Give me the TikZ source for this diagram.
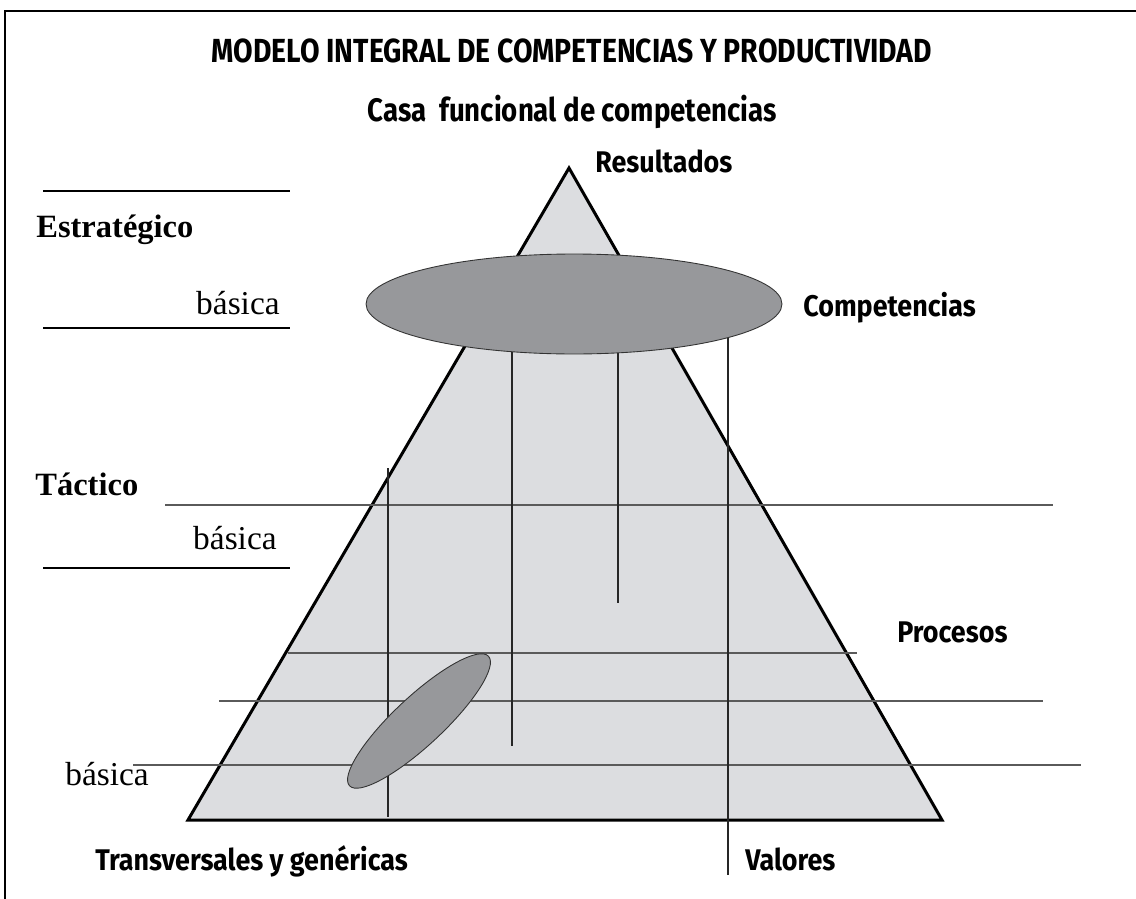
\documentclass[tikz,border=0pt]{standalone}
\usepackage{fontspec}
\usepackage{xcolor}
\setmainfont{Liberation Serif}
\newfontfamily\headsans[FakeStretch=0.85]{Fira Sans}
\newfontfamily\tagsans[FakeStretch=0.9]{Fira Sans}
\definecolor{pyrfill}{HTML}{DCDDE0}
\definecolor{ovalfill}{HTML}{97989B}
\definecolor{gridgray}{HTML}{5A5A5A}

\begin{document}
\begin{tikzpicture}[x=0.02cm,y=-0.02cm,
  every node/.style={inner sep=0pt},
  head/.style={font=\headsans\bfseries\fontsize{19}{22}\selectfont},
  tag/.style={font=\tagsans\bfseries\fontsize{17}{20}\selectfont},
  level/.style={font=\bfseries\fontsize{18.5}{22}\selectfont},
  base/.style={font=\fontsize{19}{22}\selectfont},
  rule/.style={line width=1.4pt},
  grid/.style={line width=0.85pt,draw=gridgray},
  stem/.style={line width=0.7pt,draw=black!85},
  oval/.style={fill=ovalfill,draw=black!80,line width=0.5pt}]
        \useasboundingbox (0,0) rectangle (1136,899);
        \draw[rule] (5,899) -- (5,11) -- (1140,11);

        \node[head,anchor=base](title) at (572,62) {MODELO INTEGRAL DE COMPETENCIAS Y PRODUCTIVIDAD};
        \node[head,anchor=base,font=\headsans\bfseries\fontsize{18.5}{22}\selectfont](casa) at (572,121) {Casa\ \ funcional de competencias};

        \coordinate(apex) at (569,168);
        \coordinate(bl) at (188,820);
        \coordinate(br) at (942,820);
        \filldraw[fill=pyrfill,line width=1.7pt,line join=miter](apex)--(bl)--(br)--cycle;

        \foreach \y/\a/\b in {505/165/1053, 653/288/857, 701/219/1043, 765/133/1081}
            \draw[grid](\a,\y)--(\b,\y);
        \foreach \x/\a/\b in {388/468/817, 512/320/746, 618/320/603, 728/320/875}
            \draw[stem](\x,\a)--(\x,\b);

        \filldraw[oval](574,304) ellipse [x radius=4.16cm, y radius=1cm];
        \filldraw[oval,rotate around={43:(419,721)}](419,721) ellipse [x radius=1.9cm, y radius=0.49cm];

        \node[tag,anchor=base west](res) at (595,172) {Resultados};
        \node[tag,anchor=base west](comp) at (803,316) {Competencias};
        \node[tag,anchor=base west](proc) at (897,642) {Procesos};
        \node[tag,anchor=base west](trans) at (95,870) {Transversales y genéricas};
        \node[tag,anchor=base west](val) at (745,870) {Valores};

        \draw[rule](43,191)--(290,191);
        \draw[rule](43,328)--(290,328);
        \draw[rule](43,568)--(290,568);
        \node[level,anchor=base west](estr) at (36,237) {Estratégico};
        \node[base,anchor=base east](bas1) at (280,314) {básica};
        \node[level,anchor=base west](tact) at (35,495) {Táctico};
        \node[base,anchor=base east](bas2) at (277,549) {básica};
        \node[base,anchor=base west](bas3) at (65,785) {básica};
\end{tikzpicture}
\end{document}
